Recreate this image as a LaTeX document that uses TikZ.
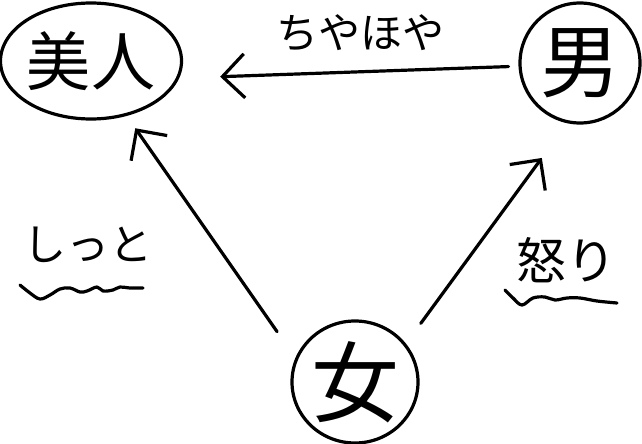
\documentclass[tikz,border=0pt]{standalone}
\usepackage{fontspec}
\setmainfont{Noto Sans CJK JP}
\usetikzlibrary{arrows.meta,shapes.geometric}
\begin{document}
\begin{tikzpicture}[x=1pt,y=-1pt, line width=3.2pt, line cap=round, line join=round,
  person/.style={draw, ellipse, inner sep=0pt},
  link/.style={-{Straight Barb[length=22pt,width=44pt]}},
  lbl/.style={inner sep=0pt},
  wave/.style={line width=3.2pt}]
\useasboundingbox (0,0) rectangle (642,444);
% people
\node[person, minimum width=174pt, minimum height=116pt, font=\fontsize{64pt}{64pt}\selectfont] (beauty) at (91,61) {美人};
\node[person, minimum width=120pt, minimum height=120pt, font=\fontsize{80pt}{80pt}\selectfont] (man) at (580,63) {男};
\node[person, minimum width=126pt, minimum height=122pt, font=\fontsize{88pt}{88pt}\selectfont] (woman) at (355,382) {女};
% relations
\draw[link, shorten <=10pt, shorten >=41pt] (man.183) -- (beauty.-11);
\draw[link, shorten <=32pt, shorten >=15pt] (woman.158) -- (beauty.-57.5);
\draw[link, shorten <=25pt, shorten >=43pt] (woman.37) -- (man.-102);
% labels
\node[lbl, font=\fontsize{42pt}{42pt}\selectfont] (tiyahoya) at (360,33) {ちやほや};
\node[lbl, font=\fontsize{43pt}{43pt}\selectfont] (shitto) at (88,245) {しっと};
\node[lbl, font=\fontsize{50pt}{50pt}\selectfont] (ikari) at (566,260) {怒り};
% wavy underlines
\draw[wave] plot[smooth, tension=0.6] coordinates {(20,285) (30,293) (40,299) (50,295) (60,289) (70,288) (80,292) (87,291) (97,287) (103,291) (113,290) (120,287) (130,288) (143,288)};
\draw[wave] plot[smooth, tension=0.6] coordinates {(505,290) (513,298) (522,305) (533,298) (545,297) (555,300) (567,298) (580,298) (597,301) (617,303)};
\end{tikzpicture}
\end{document}
